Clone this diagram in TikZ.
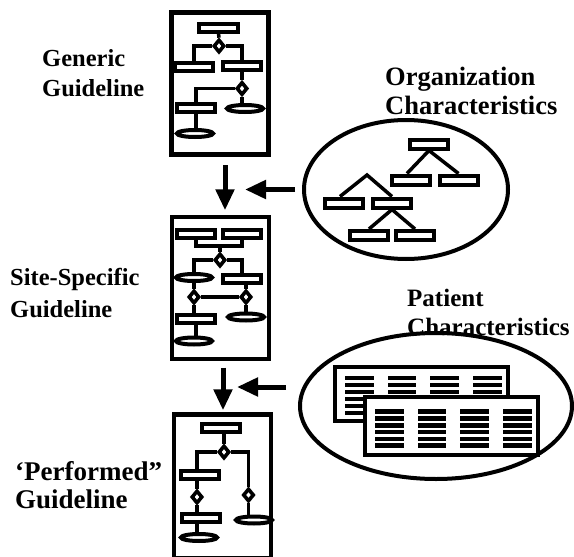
\documentclass[tikz,border=0pt]{standalone}
\usepackage{fontspec}
\setmainfont{Liberation Serif}
\usetikzlibrary{shapes.geometric,arrows.meta}
\begin{document}
\begin{tikzpicture}[x=1pt,y=-1pt,
  labl/.style={font=\bfseries\fontsize{24.5}{29.5}\selectfont, align=left, inner sep=0, anchor=base west},
  labr/.style={font=\bfseries\fontsize{26.5}{28.5}\selectfont, align=left, inner sep=0, anchor=base west},
  frame/.style={draw, line width=4.4pt, inner sep=0, minimum width=97pt, minimum height=142pt},
  fbox/.style={draw, line width=4pt, fill=white, inner sep=0, minimum width=38.5pt, minimum height=8pt},
  tbox/.style={draw, line width=4pt, fill=white, inner sep=0, minimum width=38pt, minimum height=9pt},
  fell/.style={draw, ellipse, line width=4pt, fill=white, inner sep=0, minimum width=36pt, minimum height=7pt},
  fdia/.style={draw, diamond, line width=3.6pt, fill=white, inner sep=0, minimum width=11pt, minimum height=13pt},
  wire/.style={line width=3.5pt},
  bigarrow/.style={line width=5pt, -{Triangle[length=21pt, width=18pt]}},
  oval/.style={draw, ellipse, line width=4pt, inner sep=0},
  table/.style={draw, line width=4pt, fill=white, inner sep=0, minimum width=173pt},
]
\useasboundingbox (0,0) rectangle (574,557);

% ---------- box 1 contents ----------
\node[fbox] (r1a) at (218.5,27.5) {};
\node[fdia] (d1a) at (219,46) {};
\node[fbox] (r1b) at (194,67) {};
\node[fbox] (r1c) at (242,66) {};
\node[fdia] (d1b) at (242,88.5) {};
\node[fbox] (r1d) at (196,107.5) {};
\node[fell] (e1a) at (245,108.5) {};
\node[fell] (e1b) at (195,133.5) {};
\draw[wire] (r1a.south) -- (d1a.north);
\draw[wire] (d1a.west) -| (r1b.north);
\draw[wire] (d1a.east) -| (r1c.north);
\draw[wire] (r1c.south) -- (d1b.north);
\draw[wire] (d1b.west) -| (r1d.north);
\draw[wire] (d1b.south) -- (d1b.south |- e1a.north);
\draw[wire] (r1d.south) -- (r1d.south |- e1b.north);

% ---------- box 2 contents ----------
\node[fbox] (r2a) at (196,234) {};
\node[fbox] (r2b) at (242,234) {};
\coordinate (j2) at (220,246);
\node[fdia] (d2a) at (220,260) {};
\node[fell] (e2a) at (194,277.5) {};
\node[fbox] (r2c) at (242,278.5) {};
\node[fdia] (d2b) at (194,297) {};
\node[fdia] (d2c) at (246,297) {};
\node[fell] (e2b) at (246,317) {};
\node[fbox] (r2d) at (196,318.5) {};
\node[fell] (e2c) at (194,341) {};
\draw[wire] (r2a.south) |- (j2) -| (r2b.south);
\draw[wire] (j2) -- (d2a.north);
\draw[wire] (d2a.west) -| (e2a.north);
\draw[wire] (d2a.east) -| (r2c.north);
\draw[wire] (e2a.south) -- (e2a.south |- d2b.north);
\draw[wire] (d2c.north |- r2c.south) -- (d2c.north);
\draw[wire] (d2b.east) -- (d2c.west);
\draw[wire] (d2c.south) -- (d2c.south |- e2b.north);
\draw[wire] (d2b.south) -- (d2b.south |- r2d.north);
\draw[wire] (r2d.south) -- (r2d.south |- e2c.north);

% ---------- box 3 contents ----------
\node[fbox] (r3a) at (221,427.5) {};
\node[fdia] (d3a) at (224,452) {};
\node[fbox] (r3b) at (200,475) {};
\node[fdia] (d3c) at (248.5,495) {};
\node[fdia] (d3b) at (197,497) {};
\node[fbox] (r3c) at (201,517.5) {};
\node[fell] (e3b) at (199,537.5) {};
\node[fell] (e3a) at (254,520) {};
\draw[wire] (d3a.north |- r3a.south) -- (d3a.north);
\draw[wire] (d3a.west) -| (d3b.north |- r3b.north);
\draw[wire] (d3a.east) -| (d3c.north);
\draw[wire] (d3b.north |- r3b.south) -- (d3b.north);
\draw[wire] (d3b.south) -- (d3b.south |- r3c.north);
\draw[wire] (d3b.south |- r3c.south) -- (d3b.south |- e3b.north);
\draw[wire] (d3c.south) -- (d3c.south |- e3a.north);

% ---------- frames ----------
\node[frame] (box1) at (220,83.5) {};
\node[frame] (box2) at (220.5,288) {};
\node[frame, minimum height=144pt] (box3) at (222.7,486.5) {};

% ---------- organization ellipse ----------
\node[oval, minimum width=204pt, minimum height=139pt] (org) at (406,189.5) {};
\node[tbox] (o1) at (429,144) {};
\node[tbox] (o2) at (411,180) {};
\node[tbox] (o3) at (458.5,180) {};
\node[tbox] (o4) at (344,203) {};
\node[tbox] (o5) at (392,203) {};
\node[tbox] (o6) at (369,235.5) {};
\node[tbox] (o7) at (415,235.5) {};
\coordinate (a2) at (367,175);
\draw[wire] ([xshift=-4pt]o2.north) -- (o1.south) -- (o3.north);
\draw[wire] ([xshift=-4pt]o4.north) -- (a2) -- (o5.north);
\draw[wire] (o6.north) -- (o5.south) -- (o7.north);

% ---------- patient ellipse ----------
\node[oval, minimum width=272pt, minimum height=146pt] (pat) at (436,406) {};
\node[table, minimum height=54pt] (tab1) at (421.5,394) {};
\foreach \c in {0,1,2,3}{
  \foreach \r in {0,...,5}{
    \fill ({345+42.7*\c},{375.8+7*\r}) rectangle ++(28.5,4.6);
  }
}
\node[table, minimum height=58pt] (tab2) at (451.5,426) {};
\foreach \c in {0,1,2,3}{
  \foreach \r in {0,...,5}{
    \fill ({375+42.7*\c},{409.3+6.8*\r}) rectangle ++(28.5,4.6);
  }
}

% ---------- arrows ----------
\coordinate (t1) at (245,189.5);
\coordinate (t2) at (237,387);
\draw[bigarrow, shorten <=8.5pt, shorten >=4.5pt] ([xshift=5pt]box1.south) -- ([xshift=5pt]box1.south |- box2.north);
\draw[bigarrow, shorten <=6.5pt, shorten >=2pt] ([xshift=2.5pt]box2.south) -- ([xshift=2.5pt]box2.south |- box3.north);
\draw[bigarrow, shorten <=7pt] (org.west) -- (t1);
\draw[bigarrow, shorten <=12pt] (pat.west |- t2) -- (t2);

% ---------- labels (anchor = baseline of last line) ----------
\node[labl] (lgen) at (42,96) {Generic\\Guideline};
\node[labl, font=\bfseries\fontsize{24.5}{32}\selectfont] (lsite) at (10,317) {Site-Specific\\Guideline};
\node[labl, font=\bfseries\fontsize{27}{28}\selectfont] (lperf) at (15,508) {‘Performed”\\Guideline};
\node[labr] (lorg) at (385,114) {Organization\\Characteristics};
\node[labr, font=\bfseries\fontsize{25}{29}\selectfont] (lpat) at (407,335) {Patient\\Characteristics};
\end{tikzpicture}
\end{document}
